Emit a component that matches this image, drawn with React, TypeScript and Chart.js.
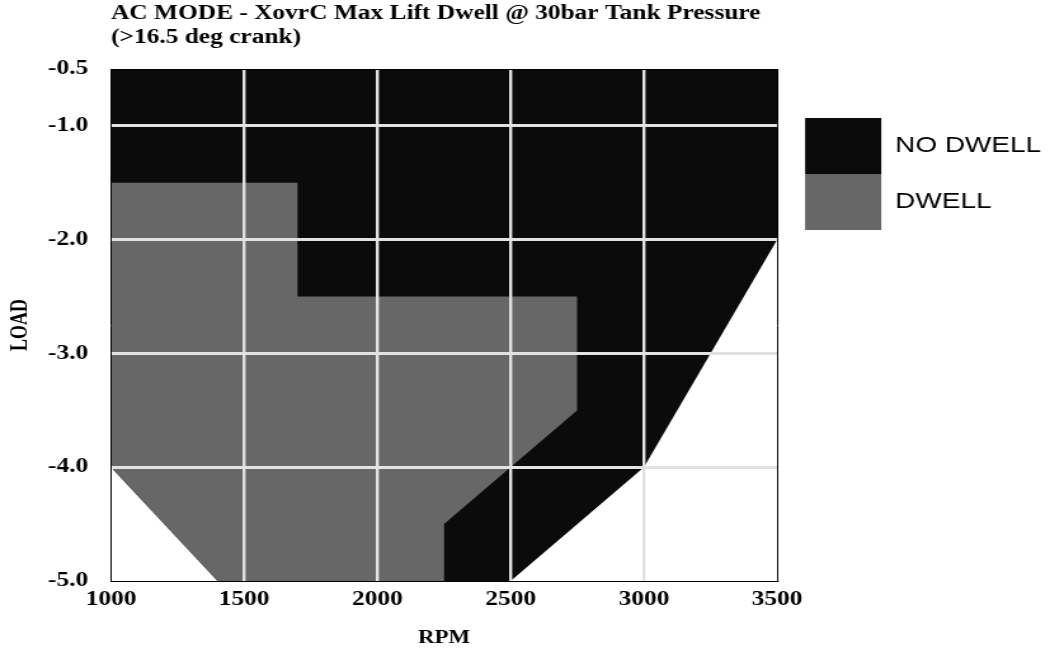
import { useEffect, useRef } from 'react';
import { Chart, registerables } from 'chart.js';

Chart.register(...registerables);

// ---- text ----
const TITLE_LINES = ['AC MODE - XovrC Max Lift Dwell @ 30bar Tank Pressure', '(>16.5 deg crank)'];
const X_TITLE = 'RPM';
const Y_TITLE = 'LOAD';
const SERIES_LABELS = ['NO DWELL', 'DWELL'];

// ---- axes ----
const rpmTicks = [1000, 1500, 2000, 2500, 3000, 3500];
const loadTicks = [-0.5, -1.0, -2.0, -3.0, -4.0, -5.0];

// ---- regions (boundaries) ----
// NO DWELL: everything above this lower boundary up to the top of the map
const noDwellRpm = [1000, 1400, 2500, 3000, 3500];
const noDwellLoad = [-4.0, -5.0, -5.0, -4.0, -2.0];
// DWELL: between this upper boundary ...
const dwellUpperRpm = [1000, 1700, 1700, 2750];
const dwellUpperLoad = [-1.5, -1.5, -2.5, -2.5];
// ... and this lower boundary
const dwellLowerRpm = [1000, 1400, 2250, 2250, 2750];
const dwellLowerLoad = [-4.0, -5.0, -5.0, -4.5, -3.5];

const CANVAS_W = 827;
const CANVAS_H = 658;
const STRETCH = 1050 / CANVAS_W;

const pts = (xs: number[], ys: number[]) => xs.map((x, i) => ({ x, y: ys[i] }));

const GRID = '#e2e2e2';
const SERIF = 'Liberation Serif';

export default function App() {
  const ref = useRef<HTMLCanvasElement | null>(null);

  useEffect(() => {
    if (!ref.current) return;
    const chart = new Chart(ref.current, {
      type: 'line',
      data: {
        datasets: [
          {
            label: SERIES_LABELS[0],
            data: pts(noDwellRpm, noDwellLoad),
            fill: 'end',
            backgroundColor: '#0b0b0b',
            borderColor: 'rgba(0,0,0,0)',
            borderWidth: 0,
            pointRadius: 0,
            order: 2,
          },
          {
            label: SERIES_LABELS[1],
            data: pts(dwellUpperRpm, dwellUpperLoad),
            fill: 2,
            backgroundColor: '#676767',
            borderColor: 'rgba(0,0,0,0)',
            borderWidth: 0,
            pointRadius: 0,
            order: 1,
          },
          {
            label: '',
            data: pts(dwellLowerRpm, dwellLowerLoad),
            fill: false,
            backgroundColor: 'rgba(0,0,0,0)',
            borderColor: 'rgba(0,0,0,0)',
            borderWidth: 0,
            pointRadius: 0,
            order: 3,
          },
        ],
      },
      options: {
        responsive: false,
        animation: false,
        events: [],
        layout: { padding: { right: -3 } },
        plugins: {
          tooltip: { enabled: false },
          title: {
            display: true,
            text: TITLE_LINES,
            align: 'start',
            fullSize: false,
            color: '#000',
            font: { family: SERIF, size: 20, weight: 'bold', lineHeight: 1.2 },
            padding: { top: 2, bottom: 19 },
          },
          legend: {
            position: 'right',
            align: 'start',
            fullSize: false,
            maxWidth: 260,
            title: { display: true, text: ' ', font: { size: 10, lineHeight: 1.2 }, padding: { top: 37, bottom: 0 } },
            labels: {
              boxWidth: 60,
              boxHeight: 56,
              padding: 0,
              color: '#000',
              font: { family: 'Liberation Sans', size: 22 },
              filter: (item: any) => item.text !== '',
              sort: (a: any, b: any) => a.datasetIndex - b.datasetIndex,
            },
          },
        },
        scales: {
          x: {
            type: 'linear',
            min: 1000,
            max: 3500,
            afterBuildTicks: (s: any) => {
              s.ticks = rpmTicks.map((v) => ({ value: v }));
            },
            afterFit: (s: any) => {
              s.height = 77;
            },
            ticks: {
              padding: 7,
              color: '#000',
              z: 2,
              font: { family: SERIF, size: 20, weight: 'bold' },
              callback: (v: any) => String(v),
            },
            grid: {
              z: 1,
              drawTicks: false,
              tickLength: 0,
              color: (c: any) => {
                const v = c.tick?.value;
                return v === 1000 || v === 3500 ? 'rgba(0,0,0,0)' : GRID;
              },
              lineWidth: 2.4,
            },
            border: { display: true, color: '#000', width: 1, z: 2 },
            title: {
              display: true,
              text: X_TITLE,
              color: '#000',
              font: { family: SERIF, size: 18, weight: 'bold' },
              padding: { top: 0, bottom: 9 },
            },
          },
          y: {
            type: 'linear',
            min: -5,
            max: -0.5,
            afterBuildTicks: (s: any) => {
              s.ticks = loadTicks.map((v) => ({ value: v }));
            },
            afterFit: (s: any) => {
              s.width = 87.4;
            },
            ticks: {
              padding: 18,
              color: '#000',
              z: 2,
              font: { family: SERIF, size: 20, weight: 'bold' },
              callback: (v: any) => Number(v).toFixed(1),
            },
            grid: {
              z: 1,
              drawTicks: false,
              tickLength: 0,
              color: (c: any) => {
                const v = c.tick?.value;
                if (v === -0.5) return '#000';
                if (v === -5) return 'rgba(0,0,0,0)';
                return GRID;
              },
              lineWidth: (c: any) => (c.tick?.value === -0.5 ? 1 : 3),
            },
            border: { display: true, color: '#000', width: 1, z: 2 },
            title: {
              display: true,
              text: Y_TITLE,
              color: '#000',
              font: { family: SERIF, size: 18, weight: 'bold' },
              padding: { top: 6, bottom: 0 },
            },
          },
          y2: {
            type: 'linear',
            position: 'right',
            display: true,
            ticks: { display: false },
            grid: { display: false, drawTicks: false },
            border: { display: true, color: '#000', width: 1, z: 2 },
            afterFit: (s: any) => {
              s.width = 22;
            },
          },
        },
      } as any,
    });
    return () => chart.destroy();
  }, []);

  return (
    <div
      style={{
        position: 'absolute',
        left: 0,
        top: 0,
        width: CANVAS_W,
        height: CANVAS_H,
        transform: `scaleX(${STRETCH})`,
        transformOrigin: '0 0',
      }}
    >
      <canvas ref={ref} width={CANVAS_W} height={CANVAS_H} style={{ display: 'block' }} />
    </div>
  );
}
